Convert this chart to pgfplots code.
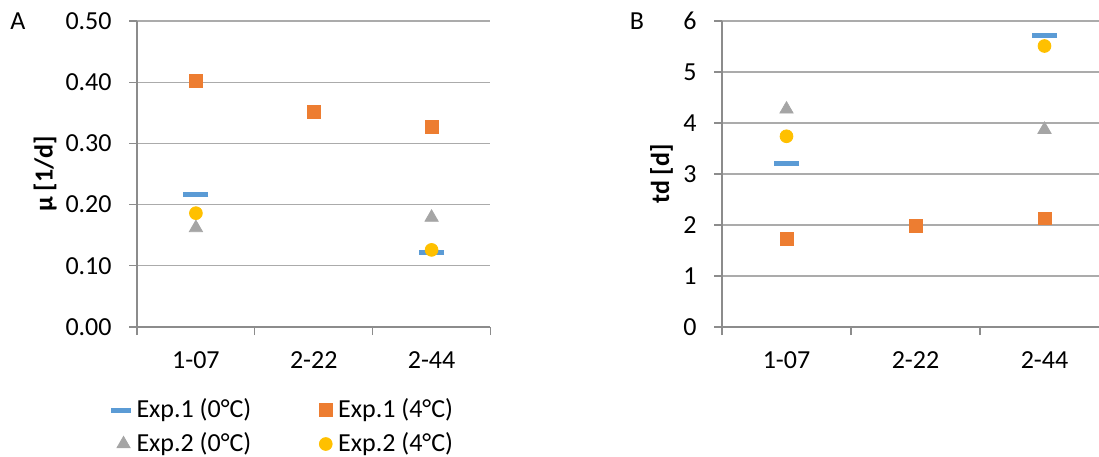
\documentclass[border=0pt]{standalone}
\usepackage{fontspec}
\setmainfont{Carlito}
\usepackage{pgfplots}
\pgfplotsset{compat=1.18}
\definecolor{cblue}{HTML}{5B9BD5}
\definecolor{corange}{HTML}{ED7D31}
\definecolor{cgray}{HTML}{A5A5A5}
\definecolor{cyellow}{HTML}{FFC000}
\definecolor{gridc}{HTML}{ABABAB}
\definecolor{axisc}{HTML}{8C8C8C}
\pgfplotsset{
  base/.style={
    scale only axis, height=153pt,
    xmin=0, xmax=3,
    axis x line*=bottom, axis y line*=left,
    axis line style={axisc, line width=0.7pt},
    ymajorgrids, grid style={gridc, line width=0.6pt},
    tick align=outside, major tick length=4pt,
    tick style={axisc, line width=0.6pt},
    xtick={0,1,2,3}, xticklabels={,,,},
    extra x ticks={0.5,1.5,2.5},
    extra x tick labels={1-07,2-22,2-44},
    extra x tick style={tick style={draw=none}, grid=none},
    xticklabel style={anchor=base, inner sep=0pt, yshift=-16.5pt},
    yticklabel style={anchor=east, inner sep=0pt, xshift=-8.5pt},
    /pgf/number format/assume math mode=true,
    legend image code/.code={\path (-6pt,0pt) (3pt,0pt); \path[##1] plot coordinates {(0pt,0pt)};},
  },
  dashleg/.style={legend image code/.code={\path (-6pt,0pt) (3pt,0pt); \path[##1, mark size=5pt] plot coordinates {(-1.5pt,0pt)};}},
  e10/.style={only marks, color=cblue, mark=-, mark size=6.25pt, mark options={line width=2.5pt, line cap=butt}},
  e14/.style={only marks, color=corange, mark=square*, mark size=3.2pt, mark options={line width=0.4pt}},
  e20/.style={only marks, color=cgray, mark=triangle*, mark size=3.8pt, mark options={line width=0.4pt}},
  e24/.style={only marks, color=cyellow, mark=*, mark size=3.2pt, mark options={line width=0.4pt}},
}
\begin{document}
\begin{tikzpicture}
\fontsize{13}{15.6}\selectfont
\useasboundingbox (0,0) rectangle (549.5pt,228pt);
\begin{axis}[base, at={(68.5pt,64.5pt)}, anchor=south west, width=176.75pt,
  ymin=0, ymax=0.5, ytick={0,0.1,0.2,0.3,0.4,0.5},
  yticklabel style={/pgf/number format/.cd, fixed, fixed zerofill, precision=2},
  ylabel={\textbf{µ [1/d]}},
  ylabel style={at={(axis description cs:-0.26,0.5)}, anchor=center},
  legend columns=2, legend cell align=left,
  legend style={at={(axis description cs:-0.076,-0.2295)}, anchor=north west,
    draw=none, fill=none, inner sep=0pt,
    nodes={inner ysep=0.5pt, inner xsep=3pt},
    row sep=4.5pt,
    /tikz/every even column/.append style={column sep=28pt}},
]
\addplot[e10, dashleg] coordinates {(0.5,0.217) (2.5,0.122)};
\addlegendentry{Exp.1 (0°C)}
\addplot[e14] coordinates {(0.5,0.402) (1.5,0.351) (2.5,0.327)};
\addlegendentry{Exp.1 (4°C)}
\addplot[e20] coordinates {(0.5,0.162) (2.5,0.179)};
\addlegendentry{Exp.2 (0°C)}
\addplot[e24] coordinates {(0.5,0.186) (2.5,0.126)};
\addlegendentry{Exp.2 (4°C)}
\end{axis}
\begin{axis}[base, at={(361pt,64.5pt)}, anchor=south west, width=193.5pt,
  ymin=0, ymax=6, ytick={0,1,2,3,4,5,6},
  ylabel={\textbf{td [d]}},
  ylabel style={at={(axis description cs:-0.156,0.5)}, anchor=center},
]
\addplot[e10] coordinates {(0.5,3.21) (2.5,5.72)};
\addplot[e14] coordinates {(0.5,1.72) (1.5,1.98) (2.5,2.13)};
\addplot[e20] coordinates {(0.5,4.27) (2.5,3.87)};
\addplot[e24] coordinates {(0.5,3.74) (2.5,5.51)};
\end{axis}
\node at (9pt,217.5pt) {A};
\node at (318.5pt,217.5pt) {B};
\end{tikzpicture}
\end{document}
